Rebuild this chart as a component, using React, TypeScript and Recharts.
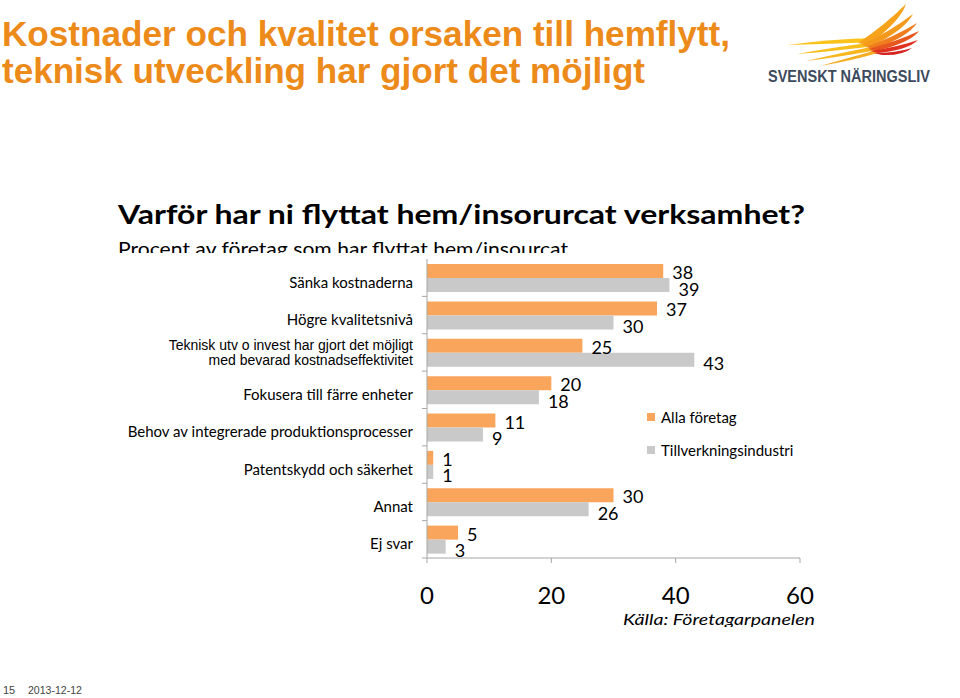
import React from 'react';
import { BarChart, Bar, XAxis, YAxis, Legend, LabelList } from 'recharts';

const categories = [
  'Sänka kostnaderna',
  'Högre kvalitetsnivå',
  'Teknisk utv o invest har gjort det möjligt|med bevarad kostnadseffektivitet',
  'Fokusera till färre enheter',
  'Behov av integrerade produktionsprocesser',
  'Patentskydd och säkerhet',
  'Annat',
  'Ej svar',
];
const allaForetag = [38, 37, 25, 20, 11, 1, 30, 5];
const tillverkningsindustri = [39, 30, 43, 18, 9, 1, 26, 3];
const xTicks = [0, 20, 40, 60];
const seriesNames = ['Alla företag', 'Tillverkningsindustri'];

const data = categories.map((name, i) => ({
  name,
  alla: allaForetag[i],
  tillv: tillverkningsindustri[i],
}));

const ORANGE = '#F9A55B';
const GREY = '#C9C9C9';
const AXIS = '#A6A6A6';
const TITLE = '#EC8A1A';
const CAL = 'Lato, "Open Sans", sans-serif';
const ARIAL = '"Liberation Sans", Arial, sans-serif';

const PLOT_TOP = 259;
const PLOT_BOTTOM = 558;
const BAND = (PLOT_BOTTOM - PLOT_TOP) / categories.length;

const YTick = (props: any) => {
  const { x, y, payload } = props;
  const value: string = payload.value;
  const lines = value.split('|');
  const axisX = x + 14;
  return (
    <g>
      <line x1={axisX - 5} x2={axisX} y1={y + BAND / 2} y2={y + BAND / 2} stroke={AXIS} strokeWidth={1} />
      {lines.length > 1 ? (
        lines.map((l, i) => (
          <text key={i} x={x} y={y - 7.5 + i * 15.5} textAnchor="end" dominantBaseline="central"
            fontFamily={ARIAL} fontSize={14} fill="#000">{l}</text>
        ))
      ) : (
        <text x={x} y={y + 4} textAnchor="end" dominantBaseline="central"
          fontFamily={CAL} fontSize={15} fill="#000">{value}</text>
      )}
    </g>
  );
};

const makeLabel = (dy: number) => (p: any) => {
  const { x, y, width, height, value } = p;
  return (
    <text x={x + width + 9} y={y + height / 2 + dy} dominantBaseline="central"
      fontFamily={CAL} fontSize={18} fill="#000">{value}</text>
  );
};

const LegendContent = (props: any) => {
  const payload = props.payload || [];
  return (
    <div style={{ fontFamily: CAL, fontSize: 15, color: '#000' }}>
      {payload.map((e: any, i: number) => (
        <div key={i} style={{ display: 'flex', alignItems: 'center', height: 33 }}>
          <span style={{ display: 'inline-block', width: 8, height: 8, background: e.color, marginRight: 6 }} />
          <span>{e.value}</span>
        </div>
      ))}
    </div>
  );
};

const Logo = () => (
  <g>
    <path d="M787,45 Q830,39 876,38 L876,42 Q830,44 787,45 Z" fill="#F9C31A" />
    <path d="M797,54 Q835,47 876,42 L876,46 Q835,51 797,54 Z" fill="#F8BE1C" />
    <path d="M806,61 Q840,53 876,46 L877,50 Q840,57 806,61 Z" fill="#F7B51E" />
    <path d="M820,66 Q848,58 877,50 L878,53 Q850,61 820,66 Z" fill="#F5AC20" />
    <path d="M858,43 Q885,25 906,4 Q900,22 868,45 Z" fill="#F6A21A" />
    <path d="M862,45 Q892,30 913,14 Q905,30 870,47 Z" fill="#F39A1C" />
    <path d="M866,47 Q896,36 917,23 Q908,37 874,49 Z" fill="#EF7D1E" />
    <path d="M868,49 Q898,41 919,31 Q910,43 876,51 Z" fill="#E8561F" />
    <path d="M870,51 Q898,47 918,40 Q908,50 878,53 Z" fill="#E0301F" />
    <path d="M874,53 Q896,53 912,48 Q902,56 882,55 Z" fill="#D42320" />
    <text x={768} y={82} fontFamily={ARIAL} fontWeight={700} fontSize={16} fill="#3C4A5D"
      textLength={162} lengthAdjust="spacingAndGlyphs">SVENSKT NÄRINGSLIV</text>
  </g>
);

export default function App() {
  return (
    <div style={{ position: 'absolute', left: 0, top: 0, width: 960, height: 698, background: '#fff', overflow: 'hidden' }}>
      <svg width={960} height={698} style={{ position: 'absolute', left: 0, top: 0 }}>
        <defs>
          <clipPath id="clipSub"><rect x={0} y={230} width={960} height={23} /></clipPath>
          <clipPath id="clipSrc"><rect x={600} y={600} width={300} height={27} /></clipPath>
        </defs>
        <text x={2} y={46} fontFamily={ARIAL} fontWeight={700} fontSize={35} fill={TITLE}
          textLength={728} lengthAdjust="spacingAndGlyphs">Kostnader och kvalitet orsaken till hemflytt,</text>
        <text x={2} y={83} fontFamily={ARIAL} fontWeight={700} fontSize={35} fill={TITLE}
          textLength={643} lengthAdjust="spacingAndGlyphs">teknisk utveckling har gjort det möjligt</text>
        <Logo />
        <text x={118} y={224} fontFamily={CAL} fontWeight={700} fontSize={27} fill="#000"
          textLength={687} lengthAdjust="spacingAndGlyphs">Varför har ni flyttat hem/insorurcat verksamhet?</text>
        <text x={118} y={256} fontFamily={CAL} fontSize={20} fill="#000" clipPath="url(#clipSub)"
          textLength={450} lengthAdjust="spacingAndGlyphs">Procent av företag som har flyttat hem/insourcat</text>
        <text x={623} y={625} fontFamily={CAL} fontStyle="italic" fontSize={16} fill="#000"
          clipPath="url(#clipSrc)" textLength={192} lengthAdjust="spacingAndGlyphs">Källa: Företagarpanelen</text>
        <text x={3} y={694} fontFamily={ARIAL} fontSize={11} fill="#444">15</text>
        <text x={28} y={694} fontFamily={ARIAL} fontSize={11} fill="#444"
          textLength={54} lengthAdjust="spacingAndGlyphs">2013-12-12</text>
      </svg>
      <div style={{ position: 'absolute', left: 0, top: 0 }}>
        <BarChart
          width={960}
          height={698}
          data={data}
          layout="vertical"
          margin={{ top: PLOT_TOP, right: 160, bottom: 80, left: 0 }}
          barGap={0}
          style={{ background: 'transparent' }}
        >
          <XAxis
            type="number"
            domain={[0, 60]}
            ticks={xTicks}
            interval={0}
            height={60}
            axisLine={{ stroke: AXIS }}
            tickLine={{ stroke: AXIS }}
            tickSize={5}
            tickMargin={24}
            tick={{ fontFamily: CAL, fontSize: 24, fill: '#000' }}
          />
          <XAxis
            xAxisId="top"
            orientation="top"
            type="number"
            domain={[0, 60]}
            height={0}
            tick={false}
            tickLine={false}
            axisLine={{ stroke: AXIS }}
          />
          <YAxis
            type="category"
            dataKey="name"
            width={427}
            axisLine={{ stroke: AXIS }}
            tickLine={false}
            tickSize={5}
            tickMargin={9}
            interval={0}
            tick={<YTick />}
          />
          <YAxis
            yAxisId="right"
            orientation="right"
            type="category"
            dataKey="name"
            width={0}
            tick={false}
            tickLine={false}
            axisLine={{ stroke: AXIS }}
          />
          <Legend
            layout="vertical"
            align="center"
            verticalAlign="middle"
            content={<LegendContent />}
            wrapperStyle={{ position: 'absolute', left: 647, top: 400, width: 200 }}
          />
          <Bar dataKey="alla" name={seriesNames[0]} fill={ORANGE} barSize={14} isAnimationActive={false}>
            <LabelList dataKey="alla" content={makeLabel(1)} />
          </Bar>
          <Bar dataKey="tillv" name={seriesNames[1]} fill={GREY} barSize={14} isAnimationActive={false}>
            <LabelList dataKey="tillv" content={makeLabel(3.5)} />
          </Bar>
        </BarChart>
      </div>
    </div>
  );
}
